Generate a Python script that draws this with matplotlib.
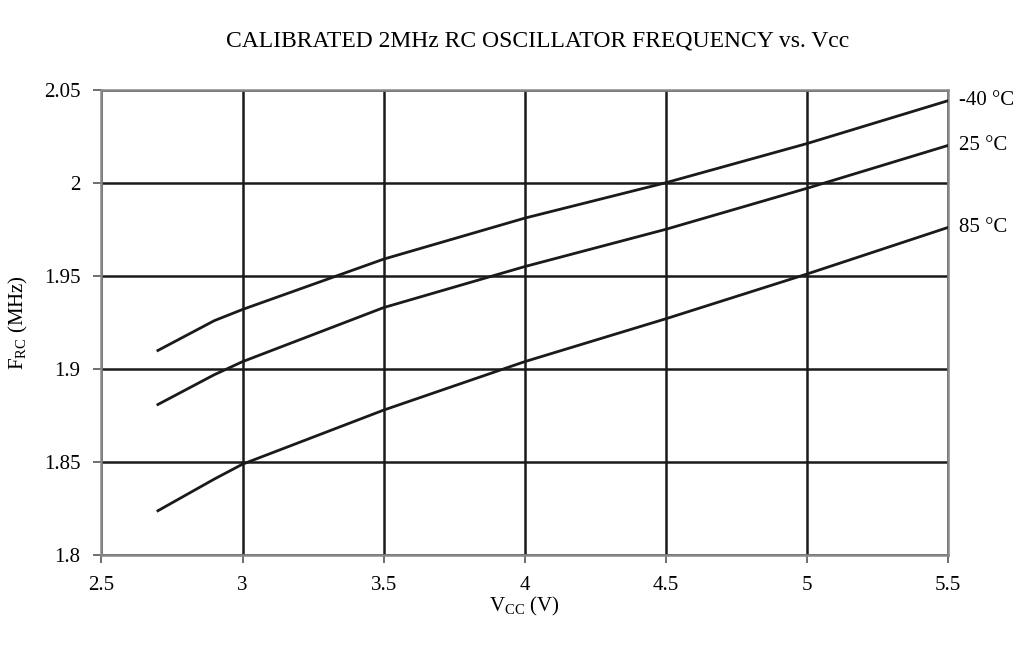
import matplotlib
matplotlib.use("Agg")
import matplotlib.pyplot as plt

# data
vcc = [2.7, 2.9, 3.0, 3.5, 4.0, 4.5, 5.0, 5.5]
f_m40 = [1.910, 1.926, 1.932, 1.959, 1.981, 2.000, 2.021, 2.044]
f_25 = [1.881, 1.897, 1.904, 1.933, 1.955, 1.975, 1.997, 2.020]
f_85 = [1.824, 1.841, 1.849, 1.878, 1.904, 1.927, 1.951, 1.976]
series_labels = ["-40 °C", "25 °C", "85 °C"]

x_ticks = [2.5, 3, 3.5, 4, 4.5, 5, 5.5]
y_ticks = [1.8, 1.85, 1.9, 1.95, 2.0, 2.05]

plt.rcParams['font.family'] = ['Liberation Serif', 'DejaVu Serif']
plt.rcParams['mathtext.fontset'] = 'custom'
plt.rcParams['mathtext.rm'] = 'Liberation Serif'

fig = plt.figure(figsize=(10.24, 6.45), dpi=100)
ax = fig.add_axes([0.0991, 0.1388, 0.8267, 0.7224])

for ys, lab in zip([f_m40, f_25, f_85], series_labels):
    ax.plot(vcc, ys, color='#1a1a1a', lw=2.0, zorder=3)
    ax.annotate(lab, xy=(vcc[-1], ys[-1]), xytext=(8, 0), textcoords='offset points',
                ha='left', va='center', fontsize=15, annotation_clip=False)

ax.set_xlim(2.5, 5.5)
ax.set_ylim(1.8, 2.05)
ax.set_xticks(x_ticks)
ax.set_xticklabels([f"{t:g}" for t in x_ticks])
ax.set_yticks(y_ticks)
ax.set_yticklabels([f"{t:g}" for t in y_ticks])
ax.grid(True, color='#1a1a1a', lw=1.8)
ax.set_axisbelow(True)

for s in ax.spines.values():
    s.set_color('#888888')
    s.set_linewidth(1.8)

ax.tick_params(axis='both', direction='out', length=6, width=1.2, color='#555555',
               labelsize=15)
ax.tick_params(axis='x', pad=9)
ax.tick_params(axis='y', pad=9)

ax.set_xlabel("V$_{\\mathrm{CC}}$ (V)", fontsize=15, labelpad=0)
ax.set_ylabel("F$_{\\mathrm{RC}}$ (MHz)", fontsize=15, labelpad=10)
fig.text(0.525, 0.937, "CALIBRATED 2MHz RC OSCILLATOR FREQUENCY vs. Vcc",
         ha='center', va='center', fontsize=17)

fig.savefig("out.png", dpi=100)
